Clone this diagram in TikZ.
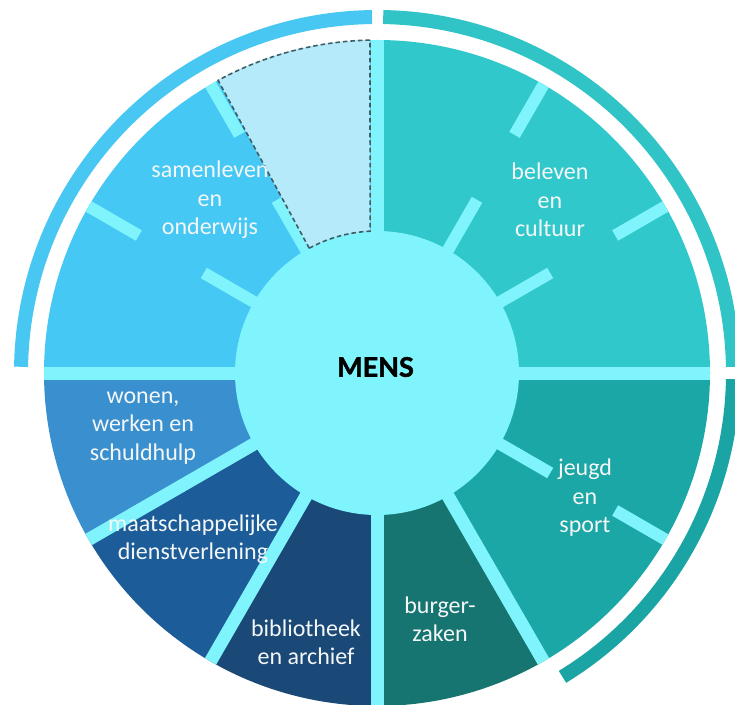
\documentclass[tikz,border=0pt]{standalone}
\usepackage{fontspec}
\setmainfont{Carlito}
\newfontfamily\mensfont[BoldFeatures={FakeBold=1.6}]{Lato}
\definecolor{lightcyan}{HTML}{80F4FC}
\definecolor{cbeleven}{HTML}{30C8CB}
\definecolor{csamen}{HTML}{46C8F5}
\definecolor{cwonen}{HTML}{3A90CF}
\definecolor{cmaats}{HTML}{1C5C98}
\definecolor{cbiblio}{HTML}{1A4877}
\definecolor{cburger}{HTML}{177571}
\definecolor{cjeugd}{HTML}{1AA7A6}
\definecolor{cpale}{HTML}{B5EAFA}
\definecolor{cdash}{HTML}{405D66}
\definecolor{ringblue}{HTML}{48C7F3}
\definecolor{ringteal}{HTML}{30C4C6}
\definecolor{ringdark}{HTML}{1BA4A4}
\definecolor{labelwhite}{HTML}{F4F7F7}
\begin{document}
\begin{tikzpicture}[x=1pt,y=1pt,
  gapband/.style={draw=lightcyan, line width=13pt},
  tickbar/.style={draw=lightcyan, line width=12pt},
  ringarc/.style={line width=14pt},
  lbl/.style={text=labelwhite, align=center, inner sep=0pt, font=\fontsize{24}{28.5}\selectfont}]
\useasboundingbox[fill=white] (-377,-331) rectangle (358,373);
% sectors
\fill[cbeleven] (0,0) -- (0:333pt) arc[start angle=0, end angle=90, radius=333pt] -- cycle;
\fill[csamen] (0,0) -- (90:333pt) arc[start angle=90, end angle=180, radius=333pt] -- cycle;
\fill[cwonen] (0,0) -- (180:333pt) arc[start angle=180, end angle=210, radius=333pt] -- cycle;
\fill[cmaats] (0,0) -- (210:333pt) arc[start angle=210, end angle=240, radius=333pt] -- cycle;
\fill[cbiblio] (0,0) -- (240:333pt) arc[start angle=240, end angle=270, radius=333pt] -- cycle;
\fill[cburger] (0,0) -- (270:333pt) arc[start angle=270, end angle=300, radius=333pt] -- cycle;
\fill[cjeugd] (0,0) -- (300:333pt) arc[start angle=300, end angle=360, radius=333pt] -- cycle;
% gap bands
\foreach \a in {0,90,180,210,240,270,300}
  \draw[gapband] (0,0) -- (\a:333pt);
% tick bars
\foreach \a in {30,60,120,150,330}{
  \draw[tickbar] (\a:140pt) -- (\a:200pt);
  \draw[tickbar] (\a:275pt) -- (\a:333pt);
}
% centre
\node[circle, fill=lightcyan, minimum size=284pt, inner sep=0pt, outer sep=0pt] (centre) at (0,0) {};
% pale dashed segment
\path[fill=cpale, draw=cdash, line width=1.6pt, dash pattern=on 4.5pt off 3pt]
  (118.5:142pt) -- (118.5:333pt) arc[start angle=118.5, end angle=91.2, radius=333pt]
  -- (92.8:142pt) arc[start angle=92.8, end angle=118.5, radius=142pt] -- cycle;
% outer rings
\draw[ringarc, draw=ringblue] (179:356pt) arc[start angle=179, end angle=90.8, radius=356pt];
\draw[ringarc, draw=ringteal] (89:356pt) arc[start angle=89, end angle=1, radius=356pt];
\draw[ringarc, draw=ringdark] (-1:356pt) arc[start angle=-1, end angle=-58.6, radius=356pt];
% labels
\node[font=\mensfont\bfseries\fontsize{27}{30}\selectfont, text=black] (mens) at (-1.5,6) {MENS};
\node[lbl] (samen) at (-167,173) {samenleven\\en\\onderwijs};
\node[lbl] (beleven) at (173,173) {beleven\\en\\cultuur};
\node[lbl] (wonen) at (-234,-55) {wonen,\\werken en\\schuldhulp};
\node[lbl] (maats) at (-184,-166) {maatschappelijke\\dienstverlening};
\node[lbl] (biblio) at (-71,-269) {bibliotheek\\en archief};
\node[lbl] (burger) at (63,-246) {burger-\\zaken};
\node[lbl] (jeugd) at (208,-125) {jeugd\\en\\sport};
\end{tikzpicture}
\end{document}
